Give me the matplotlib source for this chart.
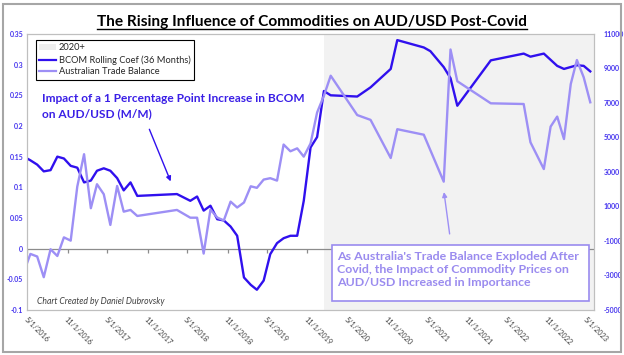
import matplotlib
matplotlib.use('Agg')
import matplotlib.pyplot as plt
from matplotlib.lines import Line2D
from matplotlib.patches import Patch, Rectangle
from matplotlib.ticker import FuncFormatter
import pandas as pd

plt.rcParams['font.family'] = ['Lato', 'DejaVu Sans']

# BCOM 36m rolling coefficient (left axis)
bcom_months = ['2016-04', '2016-05', '2016-06', '2016-07', '2016-08', '2016-09', '2016-10',
               '2016-11', '2016-12', '2017-01', '2017-02', '2017-03', '2017-04', '2017-05',
               '2017-06', '2017-07', '2017-08', '2017-09', '2018-03', '2018-05', '2018-06',
               '2018-07', '2018-08', '2018-09', '2018-10', '2018-11', '2018-12', '2019-01',
               '2019-02', '2019-03', '2019-04', '2019-05', '2019-06', '2019-07', '2019-08',
               '2019-09', '2019-10', '2019-11', '2019-12', '2020-01', '2020-02', '2020-06',
               '2020-08', '2020-11', '2020-12', '2021-04', '2021-05', '2021-07', '2021-08',
               '2021-09', '2022-02', '2022-07', '2022-08', '2022-10', '2022-12', '2023-01',
               '2023-03', '2023-04', '2023-05']
bcom = [0.150, 0.144, 0.137, 0.126, 0.128, 0.150, 0.147, 0.135, 0.132, 0.108, 0.111, 0.127,
        0.131, 0.127, 0.115, 0.095, 0.108, 0.086, 0.089, 0.078, 0.085, 0.062, 0.070, 0.048,
        0.046, 0.036, 0.021, -0.047, -0.059, -0.067, -0.052, -0.009, 0.009, 0.017, 0.021,
        0.021, 0.078, 0.165, 0.182, 0.257, 0.250, 0.248, 0.263, 0.293, 0.340, 0.328, 0.322,
        0.296, 0.278, 0.233, 0.307, 0.318, 0.313, 0.318, 0.298, 0.293, 0.299, 0.298, 0.289]

# Australian trade balance (right axis)
trade_months = ['2016-04', '2016-05', '2016-06', '2016-07', '2016-08', '2016-09', '2016-10',
                '2016-11', '2016-12', '2017-01', '2017-02', '2017-03', '2017-04', '2017-05',
                '2017-06', '2017-07', '2017-08', '2017-09', '2018-03', '2018-05', '2018-06',
                '2018-07', '2018-08', '2018-09', '2018-10', '2018-11', '2018-12', '2019-01',
                '2019-02', '2019-03', '2019-04', '2019-05', '2019-06', '2019-07', '2019-08',
                '2019-09', '2019-10', '2019-11', '2019-12', '2020-01', '2020-02', '2020-06',
                '2020-08', '2020-11', '2020-12', '2021-04', '2021-07', '2021-08', '2021-09',
                '2022-02', '2022-07', '2022-08', '2022-10', '2022-11', '2022-12', '2023-01',
                '2023-02', '2023-03', '2023-04', '2023-05']
trade = [-2800, -1750, -1900, -3100, -1480, -1870, -790, -980, 2150, 4030, 900, 2290, 1710,
         -70, 2190, 700, 800, 450, 800, 350, 350, -1730, 820, 360, 190, 1280, 940, 1230, 2170,
         2080, 2560, 2640, 2500, 4590, 4200, 4370, 3890, 4650, 6450, 7420, 8580, 6300, 6020,
         3810, 5480, 5160, 2440, 10100, 8260, 6980, 6940, 4720, 3170, 5630, 6210, 4910, 8100,
         9490, 8490, 7040]

shade_start = '2020-01'
tick_dates = pd.date_range('2016-05-01', '2023-05-01', freq='6MS')
left_ticks = [-0.1, -0.05, 0, 0.05, 0.1, 0.15, 0.2, 0.25, 0.3, 0.35]
right_ticks = [-5000, -3000, -1000, 1000, 3000, 5000, 7000, 9000, 11000]

dark = '#3010ee'
light = '#9d8ff5'
mid = '#9a8bef'

mid_month = pd.Timedelta(days=14)
bcom_dates = pd.to_datetime(bcom_months) + mid_month
trade_dates = pd.to_datetime(trade_months) + mid_month

fig = plt.figure(figsize=(6.24, 3.55), dpi=100)
ax = fig.add_axes([0.0438, 0.1268, 0.9081, 0.7775])
ax2 = ax.twinx()

x0, x1 = pd.Timestamp('2016-05-01'), pd.Timestamp('2023-06-01')
ax.axvspan(pd.Timestamp(shade_start) + mid_month, x1, color='#f2f2f2', lw=0, zorder=0)
ax.axhline(0, color='#8c8c8c', lw=0.9, zorder=1)
ax.plot(tick_dates, [0] * len(tick_dates), ls='none', marker=3, ms=3, mew=0.9,
        color='#8c8c8c', zorder=1)
ax.plot(bcom_dates, bcom, color=dark, lw=1.7, zorder=3)
ax2.plot(trade_dates, trade, color=light, lw=1.7)

ax.set_xlim(x0, x1)
ax.set_ylim(-0.1, 0.35)
ax2.set_ylim(-5000, 11000)

ax.set_xticks(tick_dates)
ax.xaxis.set_major_formatter(FuncFormatter(
    lambda v, p: (lambda d: f'{d.month}/{d.day}/{d.year}')(matplotlib.dates.num2date(v))))
ax.tick_params(axis='x', length=0, pad=4, labelsize=5.2, labelcolor='#404040')
for lbl in ax.get_xticklabels():
    lbl.set_rotation(-45)
    lbl.set_ha('left')
    lbl.set_va('top')
    lbl.set_rotation_mode('anchor')

ax.set_yticks(left_ticks)
ax.yaxis.set_major_formatter(FuncFormatter(lambda v, p: f'{v:g}'))
ax.tick_params(axis='y', length=0, pad=3, labelsize=5, labelcolor='#4433ee')
ax2.set_yticks(right_ticks)
ax2.yaxis.set_major_formatter(FuncFormatter(lambda v, p: f'{v:.0f}'))
ax2.tick_params(axis='y', length=0, pad=7, labelsize=5, labelcolor='#4433ee')
for lbl in ax.get_yticklabels() + ax2.get_yticklabels():
    lbl.set_fontweight('bold')

for a in (ax, ax2):
    for s in a.spines.values():
        s.set_color('#bfbfbf')
        s.set_linewidth(0.8)

# legend
handles = [Patch(facecolor='#eeeeee', edgecolor='none', label='2020+'),
           Line2D([], [], color=dark, lw=1.6, label='BCOM Rolling Coef (36 Months)'),
           Line2D([], [], color=light, lw=1.6, label='Australian Trade Balance')]
leg = ax2.legend(handles=handles, loc='upper left', bbox_to_anchor=(0.0154, 0.978),
                 borderaxespad=0, fontsize=6.7, frameon=True, fancybox=False,
                 handlelength=1.8, handleheight=0.6, handletextpad=0.3, labelspacing=0.3,
                 borderpad=0.35, framealpha=1)
leg.get_frame().set_edgecolor('black')
leg.get_frame().set_linewidth(0.8)
for t in leg.get_texts():
    t.set_color('#262626')

# annotations
ax2.text(0.0254, 0.785, 'Impact of a 1 Percentage Point Increase in BCOM\non AUD/USD (M/M)',
         transform=ax2.transAxes, ha='left', va='top', fontsize=8.6, fontweight='bold',
         color='#3a1fe6', linespacing=1.4)
ax2.annotate('', xy=(0.2548, 0.4565), xytext=(0.2135, 0.664), xycoords='axes fraction',
             arrowprops=dict(arrowstyle='-|>', color=dark, lw=1, mutation_scale=7))

ax2.add_patch(Rectangle((0.5377, 0.0326), 0.4535, 0.2029, transform=ax2.transAxes,
                        facecolor='white', edgecolor=mid, lw=1.2, zorder=5))
ax2.text(0.5465, 0.215, "As Australia's Trade Balance Exploded After\n"
         "Covid, the Impact of Commodity Prices on\nAUD/USD Increased in Importance",
         transform=ax2.transAxes, ha='left', va='top', fontsize=8.9, fontweight='bold',
         color=mid, linespacing=1.24, zorder=6)
ax2.annotate('', xy=(0.7346, 0.4373), xytext=(0.7459, 0.2656), xycoords='axes fraction',
             arrowprops=dict(arrowstyle='-|>', color=light, lw=1, mutation_scale=7))

ax2.text(0.0166, 0.029, 'Chart Created by Daniel Dubrovsky', transform=ax2.transAxes,
         ha='left', va='center', fontsize=6.2, style='italic', color='#404040')

# title with underline
title = fig.text(0.5008, 1 - 26 / 355, 'The Rising Influence of Commodities on AUD/USD Post-Covid',
                 ha='center', va='baseline', fontsize=11.1, fontweight='bold', color='black')
fig.canvas.draw()
bb = title.get_window_extent().transformed(fig.transFigure.inverted())
uy = 1 - 29.3 / 355
fig.add_artist(Line2D([bb.x0, bb.x1], [uy, uy], transform=fig.transFigure, color='black', lw=1))

# outer border
fig.add_artist(Rectangle((3 / 624, 3 / 355), 618 / 624, 348 / 355, transform=fig.transFigure,
                         fill=False, edgecolor='#a6a6a6', lw=1.5))

fig.savefig('out.png', dpi=100)
